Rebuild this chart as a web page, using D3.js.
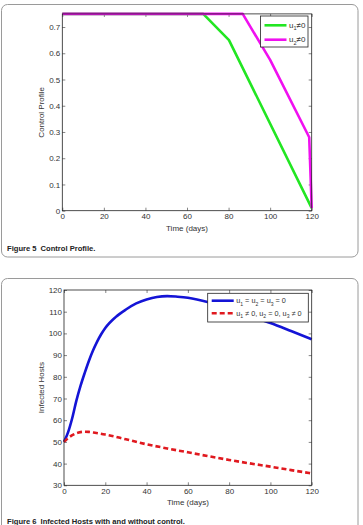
<!DOCTYPE html>
<html>
<head>
<meta charset="utf-8">
<script src="https://cdn.jsdelivr.net/npm/d3@7"></script>
<style>
  body { margin: 0; background: #fff; }
  svg { display: block; font-family: "Liberation Sans", Arial, sans-serif; }
</style>
</head>
<body>
<svg id="chart" width="363" height="525"></svg>
<script>
// Figure 5: control profile
const ctrlTicksX = [0, 20, 40, 60, 80, 100, 120];
const ctrlTicksY = [0, 0.1, 0.2, 0.3, 0.4, 0.5, 0.6, 0.7];
const u1Time = [0, 67.8, 80.2, 120];
const u1Value = [0.75, 0.75, 0.65, 0.01];
const u2Time = [0, 86.8, 100, 118.8, 120];
const u2Value = [0.75, 0.75, 0.575, 0.28, 0.01];

// Figure 6: infected hosts
const hostTicksX = [0, 20, 40, 60, 80, 100, 120];
const hostTicksY = [30, 40, 50, 60, 70, 80, 90, 100, 110, 120];
const noCtrlTime = [0, 2, 4, 6, 8, 10, 12, 14, 16, 18, 20, 25, 30, 35, 40, 45, 50, 55, 60, 70, 80, 90, 100, 110, 120];
const noCtrlValue = [50, 54.5, 61, 69, 75.8, 81.7, 87.2, 92, 96.1, 99.6, 102.5, 107.5, 111, 113.8, 115.6, 116.8, 117.2, 116.9, 116.4, 114.3, 111.3, 108, 104.8, 101.1, 97.3];
const withCtrlTime = [0, 2, 4, 6, 8, 10, 12, 15, 20, 30, 40, 50, 60, 70, 80, 90, 100, 110, 120];
const withCtrlValue = [50, 51.8, 53.1, 54, 54.5, 54.7, 54.6, 54.2, 53.4, 51.2, 48.9, 47, 45.2, 43.4, 41.7, 40.1, 38.6, 37, 35.5];

const svg = d3.select('#chart');

function zip(xs, ys) {
  return xs.map((x, i) => ({ x: x, y: ys[i] }));
}

function drawPanel(p) {
  const x = d3.scaleLinear().domain(p.xDomain).range([p.left, p.right]);
  const y = d3.scaleLinear().domain(p.yDomain).range([p.bottom, p.top]);
  const g = svg.append('g');

  // card frame
  g.append('rect')
    .attr('x', p.card[0]).attr('y', p.card[1])
    .attr('width', p.card[2]).attr('height', p.card[3])
    .attr('rx', 6)
    .attr('fill', '#fff')
    .attr('stroke', '#9a9a9a')
    .attr('stroke-width', 1);

  // axes, matlab style ticks inside
  const styleAxis = sel => {
    sel.select('.domain').remove();
    sel.selectAll('line').attr('stroke', '#333').attr('stroke-width', 0.6);
    sel.selectAll('text').attr('fill', '#333').style('font-size', '8px');
  };
  g.append('g')
    .attr('transform', `translate(0,${p.bottom})`)
    .call(d3.axisBottom(x).tickValues(p.ticksX).tickSize(-3).tickPadding(3).tickFormat(d3.format('d')))
    .call(styleAxis);
  g.append('g')
    .attr('transform', `translate(0,${p.top})`)
    .call(d3.axisTop(x).tickValues(p.ticksX).tickSize(-3).tickFormat(''))
    .call(styleAxis);
  g.append('g')
    .attr('transform', `translate(${p.left},0)`)
    .call(d3.axisLeft(y).tickValues(p.ticksY).tickSize(-3).tickPadding(2).tickFormat(p.fmtY))
    .call(styleAxis);
  g.append('g')
    .attr('transform', `translate(${p.right},0)`)
    .call(d3.axisRight(y).tickValues(p.ticksY).tickSize(-3).tickFormat(''))
    .call(styleAxis);

  const line = d3.line().x(d => x(d.x)).y(d => y(d.y));
  if (p.curve) line.curve(d3.curveMonotoneX);
  p.series.forEach(s => {
    g.append('path')
      .datum(zip(s.xs, s.ys))
      .attr('fill', 'none')
      .attr('stroke', s.color)
      .attr('stroke-width', 2.6)
      .attr('stroke-dasharray', s.dash || null)
      .attr('stroke-linejoin', 'round')
      .attr('d', line);
  });

  // box
  g.append('rect')
    .attr('x', p.left).attr('y', p.top)
    .attr('width', p.right - p.left).attr('height', p.bottom - p.top)
    .attr('fill', 'none')
    .attr('stroke', '#222')
    .attr('stroke-width', 0.8);

  // legend
  const lg = g.append('g');
  lg.append('rect')
    .attr('x', p.legend.x).attr('y', p.legend.y)
    .attr('width', p.legend.w).attr('height', p.legend.h)
    .attr('fill', '#fff')
    .attr('stroke', '#222')
    .attr('stroke-width', 0.8);
  const fs = p.legend.fontSize;
  p.series.forEach((s, i) => {
    const ly = p.legend.y + p.legend.rowY[i];
    lg.append('line')
      .attr('x1', p.legend.x + 4).attr('x2', p.legend.x + 26)
      .attr('y1', ly).attr('y2', ly)
      .attr('stroke', s.color)
      .attr('stroke-width', 2.6)
      .attr('stroke-dasharray', s.dash || null);
    const t = lg.append('text')
      .attr('x', p.legend.x + 28.5).attr('y', ly + 2.5)
      .attr('fill', '#333')
      .style('font-size', fs + 'px');
    let shift = 0;
    s.label.forEach(part => {
      t.append('tspan').attr('dy', -shift).text(part[0]);
      shift = 0;
      if (part[1]) {
        t.append('tspan').attr('dy', 2.5).style('font-size', (fs * 0.7) + 'px').text(part[1]);
        shift = 2.5;
      }
    });
  });

  // axis titles
  g.append('text')
    .attr('x', (p.left + p.right) / 2).attr('y', p.bottom + 20)
    .attr('text-anchor', 'middle')
    .attr('fill', '#333')
    .style('font-size', '8px')
    .text('Time (days)');
  g.append('text')
    .attr('transform', `translate(${p.yTitleX},${(p.top + p.bottom) / 2}) rotate(-90)`)
    .attr('text-anchor', 'middle')
    .attr('fill', '#333')
    .style('font-size', '8px')
    .text(p.yTitle);

  // caption
  const cap = g.append('text')
    .attr('x', 7).attr('y', p.captionY)
    .attr('fill', '#222')
    .style('font-size', '7.6px')
    .style('font-weight', 'bold');
  cap.append('tspan').text(p.caption[0]);
  cap.append('tspan').attr('dx', 4).text(p.caption[1]);
}

drawPanel({
  card: [1.5, 4.5, 356.5, 252.5],
  left: 62.3, right: 311.7, top: 13.9, bottom: 210.7,
  xDomain: [0, 120], yDomain: [0, 0.75],
  ticksX: ctrlTicksX, ticksY: ctrlTicksY,
  fmtY: d => d === 0 ? '0' : d3.format('.1f')(d),
  yTitle: 'Control Profile', yTitleX: 44,
  series: [
    { xs: u1Time, ys: u1Value, color: '#22e622', label: [['u', '1'], ['≠0']] },
    { xs: u2Time, ys: u2Value, color: '#f010f0', label: [['u', '2'], ['≠0']] }
  ],
  legend: { x: 260.5, y: 16, w: 47.5, h: 31, rowY: [9.3, 23.7], fontSize: 8 },
  caption: ['Figure 5', 'Control Profile.'], captionY: 251
});

drawPanel({
  card: [1.5, 278.5, 356.5, 260],
  left: 64, right: 311.7, top: 290, bottom: 485.3,
  xDomain: [0, 120], yDomain: [30, 120],
  ticksX: hostTicksX, ticksY: hostTicksY,
  fmtY: d3.format('d'),
  curve: true,
  yTitle: 'Infected Hosts', yTitleX: 44,
  series: [
    { xs: noCtrlTime, ys: noCtrlValue, color: '#1414d6', label: [['u', '1'], [' = u', '2'], [' = u', '3'], [' = 0']] },
    { xs: withCtrlTime, ys: withCtrlValue, color: '#e0191f', dash: '5,3', label: [['u', '1'], [' ≠ 0, u', '2'], [' = 0, u', '3'], [' ≠ 0']] }
  ],
  legend: { x: 207.7, y: 293.3, w: 100.6, h: 28.7, rowY: [7.4, 20], fontSize: 7.3 },
  caption: ['Figure 6', 'Infected Hosts with and without control.'], captionY: 524
});
</script>
</body>
</html>
